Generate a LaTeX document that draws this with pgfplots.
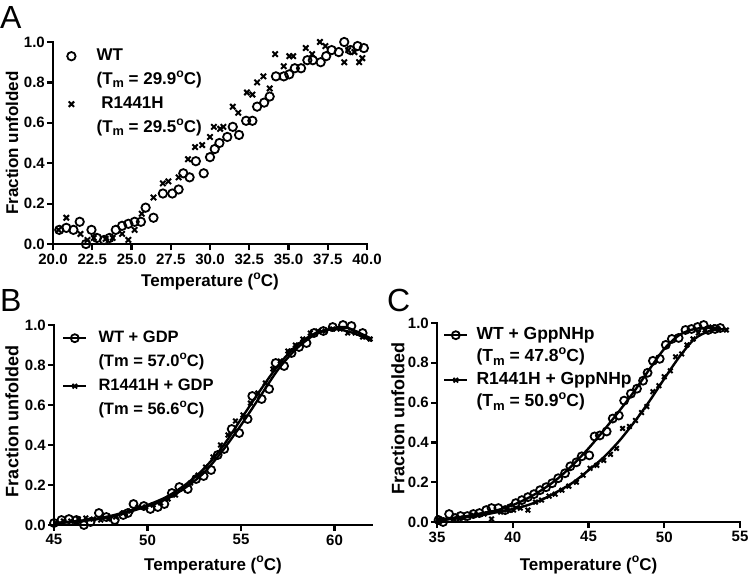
\documentclass[border=0pt]{standalone}
\usepackage{fontspec}
\setmainfont{Liberation Sans}
\usepackage{pgfplots}
\pgfplotsset{compat=1.18}
\newcommand\supo{\raisebox{0.42em}{\scalebox{0.72}{o}}}
\newcommand\subm{\raisebox{-0.2em}{\scalebox{0.75}{m}}}

\pgfplotsset{
  prism/.style={
    scale only axis, enlargelimits=false, clip=false,
    axis x line*=bottom, axis y line*=left,
    axis line style={line width=2.3pt, line cap=rect, -},
    every tick/.style={black, line width=2.2pt},
    tick align=outside, major tick length=6pt,
    xtick pos=left, ytick pos=left,
    ymin=0, ymax=1, ytick={0,0.2,0.4,0.6,0.8,1},
    /pgf/number format/assume math mode=true,
    tick label style={font=\fontsize{15}{17}\selectfont\bfseries},
    yticklabel style={inner xsep=2pt, /pgf/number format/.cd, fixed, fixed zerofill, precision=1},
    every axis y label/.style={rotate=90, anchor=center, font=\fontsize{17}{20}\selectfont\bfseries},
    every axis x label/.style={anchor=center, font=\fontsize{17}{20}\selectfont\bfseries},
    xlabel={Temperature (\supo C)},
    ylabel={Fraction unfolded},
    legend style={draw=none, fill=none, inner sep=0pt,
      at={(axis description cs:0,1)}, anchor=north west,
      font=\fontsize{16}{18}\selectfont\bfseries,
      row sep=8pt,
      nodes={inner ysep=0pt, inner xsep=3pt, text height=12pt, text depth=4pt},
      cells={anchor=west}},
  },
  circ/.style={only marks, mark=o, mark size=4.2pt, mark options={line width=1.8pt, black}},
  crs/.style={only marks, mark=x, mark size=3.8pt, mark options={line width=2pt, black}},
  fitl/.style={black, line width=2.4pt, smooth, no marks, forget plot},
}

\begin{document}
\begin{tikzpicture}[x=1pt,y=1pt]
\useasboundingbox (0,0) rectangle (751,-582);

\node[anchor=base west, inner sep=0pt, font=\fontsize{32}{32}\selectfont] at (0,-28) {A};
\node[anchor=base west, inner sep=0pt, font=\fontsize{32}{32}\selectfont] at (0,-311) {B};
\node[anchor=base west, inner sep=0pt, font=\fontsize{32}{32}\selectfont] at (387,-311) {C};

% ---------------- Panel A ----------------
\begin{axis}[prism, at={(53pt,-244pt)}, anchor=south west,
  width=314pt, height=202pt, xmin=20, xmax=40,
  xtick={20,22.5,25,27.5,30,32.5,35,37.5,40},
  xticklabel style={/pgf/number format/.cd, fixed, fixed zerofill, precision=1},
  xlabel style={at={(axis description cs:0.5,-0.185)}},
  ylabel style={at={(axis description cs:-0.1306,0.5)}},
  legend style={xshift=10pt, yshift=-6pt, font=\fontsize{17}{19}\selectfont\bfseries},
  legend image code/.code={\path (0pt,0pt) (30pt,0pt); \draw[#1] plot coordinates {(8pt,0pt)};},
]
\addplot[circ] coordinates {
(20.4,0.07)(20.85,0.08)(21.3,0.07)(21.7,0.11)(22.1,0.0)(22.45,0.07)(22.8,0.03)
(23.25,0.02)(23.6,0.03)(24.0,0.07)(24.4,0.09)(24.8,0.10)(25.2,0.11)(25.6,0.11)
(25.9,0.18)(26.4,0.13)(27.0,0.25)(27.6,0.25)(28.0,0.27)(28.3,0.35)(28.7,0.33)
(29.1,0.41)(29.6,0.35)(30.0,0.43)(30.3,0.47)(30.6,0.50)(31.1,0.53)(31.45,0.58)
(31.85,0.54)(32.3,0.61)(32.7,0.61)(33.0,0.68)(33.45,0.70)(33.8,0.73)(34.2,0.83)
(34.7,0.83)(35.05,0.84)(35.4,0.87)(35.8,0.87)(36.2,0.91)(36.55,0.91)(37.05,0.90)
(37.4,0.93)(37.75,0.96)(38.2,0.95)(38.55,1.0)(38.95,0.96)(39.4,0.98)(39.8,0.97)
};
\addlegendentry{WT}
\addlegendimage{empty legend}
\addlegendentry{(T\subm\ = 29.9\supo C)}
\addplot[crs] coordinates {
(20.35,0.07)(20.85,0.13)(21.75,0.05)(22.2,0.02)(22.6,0.03)(23.35,0.025)(23.8,0.03)
(24.4,0.05)(24.8,0.02)(25.2,0.07)(25.65,0.15)(26.4,0.23)(27.0,0.30)(27.35,0.31)
(28.0,0.33)(28.6,0.42)(29.05,0.48)(29.5,0.49)(30.0,0.53)(30.25,0.58)(30.65,0.57)
(30.85,0.58)(31.45,0.68)(31.8,0.65)(32.35,0.75)(32.7,0.74)(33.0,0.80)(33.4,0.83)
(33.8,0.77)(34.15,0.94)(34.7,0.88)(35.05,0.93)(35.3,0.93)(36.1,0.97)(36.5,0.94)
(37.0,1.0)(37.35,0.98)(38.55,0.90)(38.8,0.96)(39.2,0.95)(39.5,0.90)(39.7,0.92)
};
\addlegendentry{\ R1441H}
\addlegendimage{empty legend}
\addlegendentry{(T\subm\ = 29.5\supo C)}
\end{axis}

% ---------------- Panel B ----------------
\begin{axis}[prism, at={(54pt,-525pt)}, anchor=south west,
  width=318pt, height=200pt, xmin=45, xmax=62,
  xtick={45,50,55,60},
  xlabel style={at={(axis description cs:0.5,-0.2)}},
  ylabel style={at={(axis description cs:-0.132,0.52)}, font=\fontsize{18}{20}\selectfont\bfseries},
  legend style={xshift=8pt, yshift=-5pt, font=\fontsize{16.5}{18}\selectfont\bfseries},
  legend image code/.code={\path (0pt,0pt) (32pt,0pt); \draw[#1, line width=2.2pt, mark repeat=2, mark phase=2] plot coordinates {(0pt,0pt)(11.5pt,0pt)(23pt,0pt)};},
]
\addplot[fitl] coordinates {(45,0.01)(46,0.015)(47,0.025)(48,0.04)(49,0.065)(50,0.095)(51,0.13)(52,0.185)(53,0.26)(54,0.37)(55,0.5)(56,0.64)(57,0.78)(58,0.885)(59,0.955)(60,0.985)(60.5,0.99)(61,0.975)(62,0.93)};
\addplot[fitl] coordinates {(45,0.01)(46,0.018)(47,0.028)(48,0.045)(49,0.07)(50,0.1)(51,0.14)(52,0.2)(53,0.28)(54,0.39)(55,0.53)(56,0.67)(57,0.8)(58,0.9)(59,0.96)(60,0.98)(61,0.96)(62,0.92)};
\addplot[circ, mark size=4pt, forget plot] coordinates {
(45.0,0.01)(45.4,0.025)(45.8,0.03)(46.2,0.025)(46.6,0.0)(46.95,0.015)(47.4,0.06)
(47.8,0.04)(48.25,0.025)(48.7,0.05)(48.95,0.06)(49.25,0.105)(49.8,0.095)(50.15,0.08)
(50.55,0.09)(50.9,0.105)(51.3,0.16)(51.7,0.19)(52.15,0.18)(52.6,0.23)(53.0,0.245)
(53.4,0.275)(53.75,0.35)(54.1,0.38)(54.5,0.48)(54.9,0.46)(55.35,0.53)(55.6,0.645)
(56.1,0.63)(56.5,0.68)(56.85,0.81)(57.3,0.795)(57.7,0.86)(58.1,0.89)(58.5,0.91)
(58.9,0.96)(59.4,0.97)(59.9,0.99)(60.45,1.0)(60.9,0.995)(61.5,0.96)
};
\addplot[crs, mark size=3.2pt, forget plot] coordinates {
(45.1,0.01)(45.5,0.02)(45.9,0.02)(46.3,0.03)(46.7,0.035)(47.1,0.03)(47.5,0.025)
(47.9,0.03)(48.3,0.04)(48.7,0.06)(49.1,0.07)(49.5,0.09)(49.9,0.09)(50.3,0.10)
(50.7,0.11)(51.1,0.13)(51.5,0.15)(51.9,0.18)(52.3,0.21)(52.7,0.25)(53.1,0.29)
(53.5,0.34)(53.9,0.40)(54.3,0.45)(54.7,0.52)(55.1,0.55)(55.5,0.61)(55.9,0.66)
(56.3,0.71)(56.7,0.78)(57.1,0.82)(57.5,0.87)(57.9,0.90)(58.3,0.93)(58.7,0.96)
(59.1,0.97)(59.5,0.97)(59.9,0.98)(60.3,0.98)(60.7,0.96)(61.1,0.96)(61.5,0.94)(61.9,0.93)
};
\addlegendimage{black, mark=o, mark size=4pt, mark options={line width=1.8pt}}
\addlegendentry{WT + GDP}
\addlegendimage{empty legend}
\addlegendentry{(Tm = 57.0\supo C)}
\addlegendimage{black, mark=x, mark size=3.2pt, mark options={line width=1.8pt}}
\addlegendentry{R1441H + GDP}
\addlegendimage{empty legend}
\addlegendentry{(Tm = 56.6\supo C)}
\end{axis}

% ---------------- Panel C ----------------
\begin{axis}[prism, at={(437pt,-522pt)}, anchor=south west,
  width=303pt, height=199pt, xmin=35, xmax=55,
  xtick={35,40,45,50,55},
  xlabel style={at={(axis description cs:0.5,-0.216)}},
  ylabel style={at={(axis description cs:-0.1287,0.52)}, font=\fontsize{18}{20}\selectfont\bfseries},
  legend style={xshift=6pt, yshift=-4pt, row sep=6.5pt, font=\fontsize{17.5}{20}\selectfont\bfseries},
  legend image code/.code={\path (0pt,0pt) (29pt,0pt); \draw[#1, line width=2.2pt, mark repeat=2, mark phase=2] plot coordinates {(0pt,0pt)(11.5pt,0pt)(23pt,0pt)};},
]
\addplot[fitl] coordinates {(35,0.01)(36,0.02)(37,0.03)(38,0.045)(39,0.06)(40,0.085)(41,0.12)(42,0.165)(43,0.22)(44,0.29)(45,0.37)(46,0.46)(47,0.555)(48,0.655)(49,0.765)(50,0.87)(51,0.94)(52,0.97)(53,0.975)(53.7,0.975)};
\addplot[fitl] coordinates {(35,0.01)(36,0.015)(37,0.025)(38,0.035)(39,0.05)(40,0.065)(41,0.085)(42,0.115)(43,0.155)(44,0.2)(45,0.26)(46,0.325)(47,0.405)(48,0.5)(49,0.605)(50,0.72)(51,0.83)(52,0.92)(53,0.96)(54,0.97)(54.1,0.965)};
\addplot[circ, mark size=4pt, forget plot] coordinates {
(35.1,0.01)(35.4,0.0)(35.8,0.04)(36.2,0.02)(36.55,0.03)(37.0,0.03)(37.4,0.04)
(37.8,0.045)(38.25,0.06)(38.6,0.07)(39.05,0.07)(39.5,0.06)(39.85,0.07)(40.2,0.095)
(40.6,0.11)(41.0,0.125)(41.4,0.14)(41.8,0.16)(42.2,0.175)(42.6,0.195)(43.0,0.22)
(43.45,0.245)(43.8,0.28)(44.2,0.30)(44.55,0.33)(45.05,0.335)(45.4,0.43)(45.75,0.435)
(46.2,0.455)(46.6,0.52)(47.0,0.535)(47.35,0.61)(47.8,0.645)(48.2,0.67)(48.6,0.71)
(48.9,0.75)(49.25,0.81)(49.7,0.82)(50.1,0.89)(50.5,0.92)(50.95,0.925)(51.4,0.965)
(51.8,0.97)(52.2,0.98)(52.6,0.99)(52.9,0.965)(53.35,0.97)(53.7,0.975)
};
\addplot[crs, mark size=3.2pt, forget plot] coordinates {
(35.1,0.015)(35.55,0.01)(36.1,0.015)(36.75,0.02)(37.4,0.035)(38.1,0.04)(38.6,0.015)
(39.2,0.05)(39.6,0.06)(40.05,0.06)(40.5,0.07)(41.0,0.06)(41.5,0.10)(41.9,0.11)
(42.4,0.13)(42.8,0.14)(43.25,0.16)(43.7,0.18)(44.2,0.20)(44.65,0.235)(45.1,0.27)
(45.55,0.285)(46.0,0.31)(46.45,0.34)(46.85,0.37)(47.25,0.47)(47.7,0.48)(48.1,0.51)
(48.5,0.55)(48.85,0.58)(49.25,0.655)(49.65,0.685)(50.0,0.73)(50.4,0.76)(50.75,0.83)
(51.15,0.845)(51.5,0.89)(51.9,0.92)(52.25,0.95)(52.7,0.965)(53.15,0.98)(53.55,0.97)(54.1,0.965)
};
\addlegendimage{black, mark=o, mark size=4pt, mark options={line width=1.8pt}}
\addlegendentry{WT + GppNHp}
\addlegendimage{empty legend}
\addlegendentry{(T\subm\ = 47.8\supo C)}
\addlegendimage{black, mark=x, mark size=3.2pt, mark options={line width=1.8pt}}
\addlegendentry{R1441H + GppNHp}
\addlegendimage{empty legend}
\addlegendentry{(T\subm\ = 50.9\supo C)}
\end{axis}
\end{tikzpicture}
\end{document}
